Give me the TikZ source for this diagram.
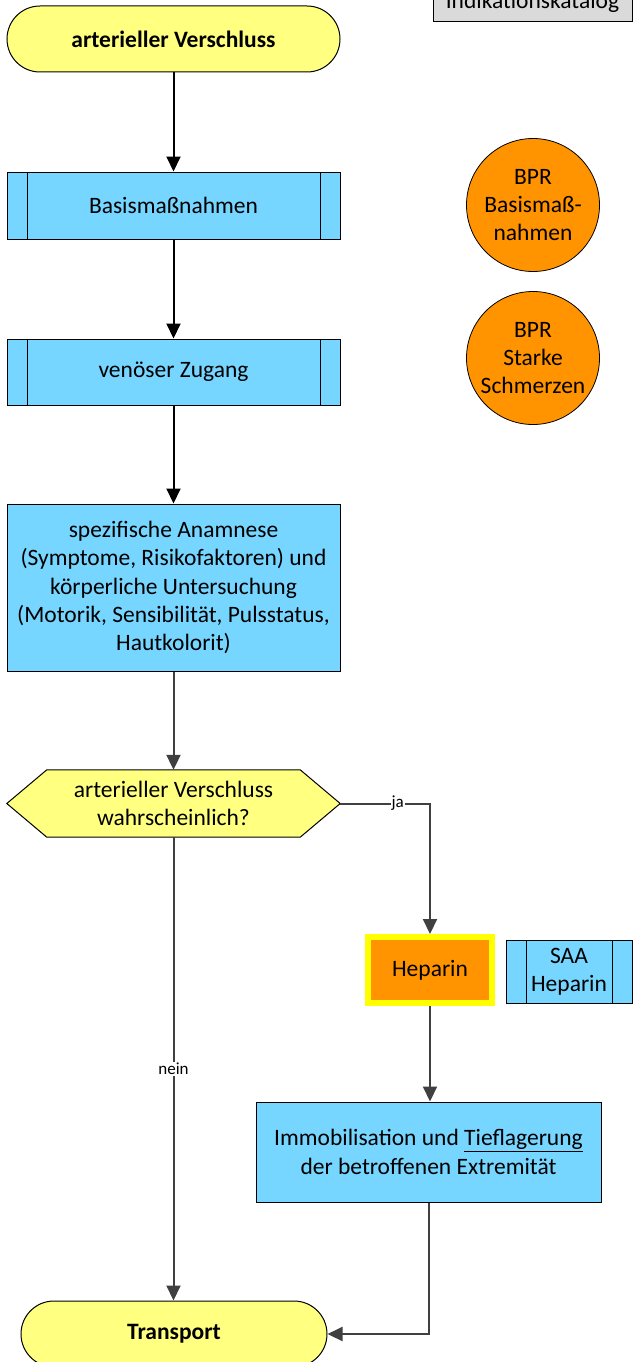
\documentclass[tikz,border=0pt]{standalone}
\usepackage{fontspec}
\setmainfont{Carlito}
\usetikzlibrary{arrows.meta,backgrounds}
\definecolor{termyellow}{HTML}{FFFF80}
\definecolor{procblue}{HTML}{76D6FF}
\definecolor{bprorange}{HTML}{FF9300}
\definecolor{hepyellow}{HTML}{FFFF00}
\definecolor{katgray}{HTML}{DADADA}
\definecolor{linegray}{HTML}{404040}
\begin{document}
\begin{tikzpicture}[x=1pt,y=-1pt,
  font=\fontsize{23.5}{28.3}\selectfont,
  terminal/.style={draw, line width=1pt, fill=termyellow, rounded corners=33pt,
    minimum width=333pt, minimum height=66pt,
    font=\fontsize{23.5}{28.3}\selectfont\bfseries},
  proc/.style={draw, line width=1pt, fill=procblue, align=center, inner sep=3pt},
  subproc/.style={proc, path picture={
    \draw[line width=0.8pt] ([xshift=20pt]path picture bounding box.north west) -- ([xshift=20pt]path picture bounding box.south west);
    \draw[line width=0.8pt] ([xshift=-20pt]path picture bounding box.north east) -- ([xshift=-20pt]path picture bounding box.south east);}},
  bpr/.style={circle, draw, line width=0.8pt, fill=bprorange, minimum size=133pt, inner sep=0pt, align=center},
  flowarrow/.style={-{Triangle[length=15pt,width=14pt]}, line width=2pt, color=black},
  grayarrow/.style={-{Triangle[length=15pt,width=14pt]}, line width=2pt, color=linegray},
  lbl/.style={fill=white, inner sep=1pt, text=black, font=\fontsize{17}{20}\selectfont}
]
\useasboundingbox (0,0) rectangle (633,1362);

\node[draw, line width=1pt, fill=katgray, minimum width=199pt, minimum height=40pt] (kat) at (532.5,2) {Indikationskatalog};

\node[terminal] (start) at (173.5,39) {arterieller Verschluss};
\node[subproc, minimum width=333pt, minimum height=67pt] (basis) at (173.5,205.5) {Basismaßnahmen};
\node[subproc, minimum width=333pt, minimum height=66pt] (ven) at (173.5,372) {venöser Zugang};
\node[proc, minimum width=333pt, minimum height=167pt] (spec) at (173.5,587.5) {spezifische Anamnese\\(Symptome, Risikofaktoren) und\\körperliche Untersuchung\\(Motorik, Sensibilität, Pulsstatus,\\Hautkolorit)};
\node[minimum width=333pt, minimum height=67pt, align=center, inner sep=0pt] (dec) at (173.5,803.5) {arterieller Verschluss\\wahrscheinlich?};
\begin{scope}[on background layer]
\draw[line width=1pt, fill=termyellow] (dec.west) -- ([xshift=40pt]dec.north west) -- ([xshift=-40pt]dec.north east) -- (dec.east) -- ([xshift=-40pt]dec.south east) -- ([xshift=40pt]dec.south west) -- cycle;
\end{scope}

\node[draw=hepyellow, line width=6pt, fill=bprorange, minimum width=124pt, minimum height=66pt] (hep) at (430,970) {Heparin};
\node[subproc, minimum width=126pt, minimum height=63pt, inner sep=0pt] (saa) at (569,971.5) {SAA\\Heparin};
\node[proc, minimum width=345pt, minimum height=100pt] (imm) at (428.5,1152) {Immobilisation und \underline{Tieflagerung}\\der betroffenen Extremität};
\node[terminal, minimum width=306pt] (trans) at (174,1334) {Transport};

\node[bpr] (bpr1) at (533,205) {BPR\\Basismaß-\\nahmen};
\node[bpr] (bpr2) at (533,358) {BPR\\Starke\\Schmerzen};

\draw[flowarrow] (start.south) -- (basis.north);
\draw[flowarrow] (basis.south) -- (ven.north);
\draw[flowarrow] (ven.south) -- (spec.north);
\draw[grayarrow] (spec.south) -- (dec.north);
\draw[grayarrow] (dec.east) -| node[lbl, pos=0.32] {ja} (hep.north);
\draw[grayarrow] (hep.south) -- (hep.south |- imm.north);
\draw[grayarrow] (dec.south) -- node[lbl] {nein} (dec.south |- trans.north);
\draw[grayarrow] (imm.south) |- (trans.east);
\end{tikzpicture}
\end{document}
